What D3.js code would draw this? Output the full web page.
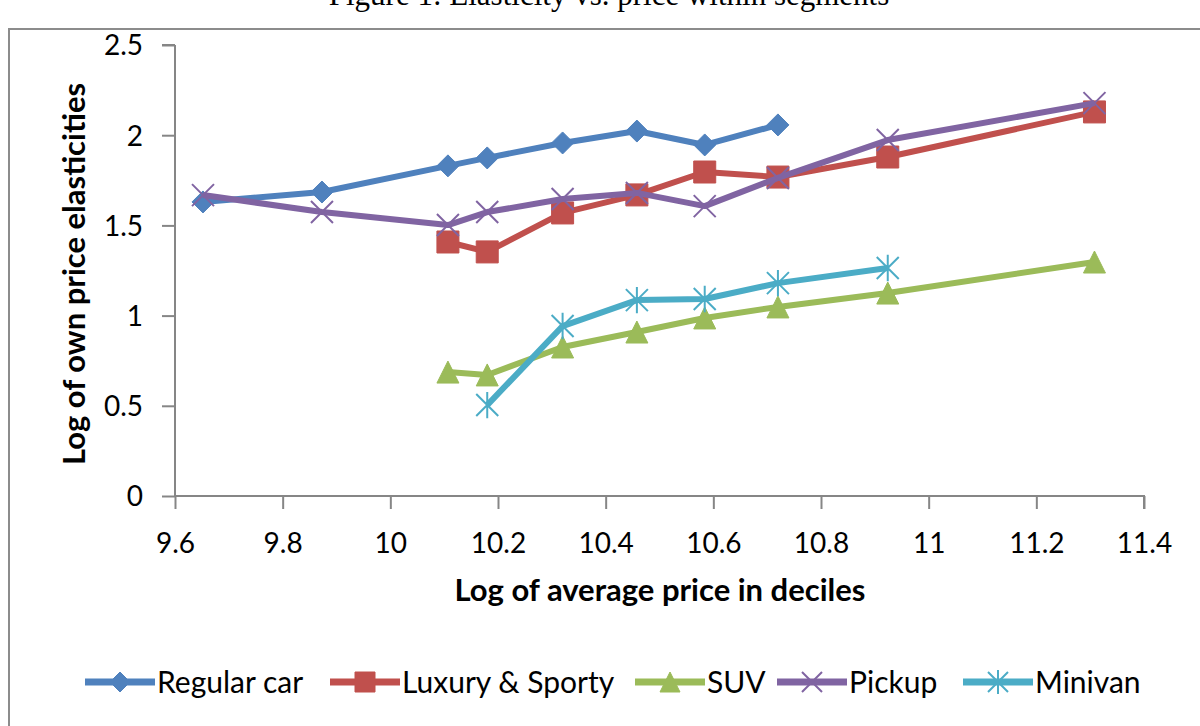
<!DOCTYPE html>
<html>
<head>
<meta charset="utf-8">
<script src="https://cdn.jsdelivr.net/npm/d3@7"></script>
<style>
    body { margin: 0; background: #ffffff; }
    #chart { width: 1200px; height: 726px; overflow: hidden; }
    text { font-family: Lato, "Open Sans", sans-serif; fill: #000; }
</style>
</head>
<body>
<div id="chart"></div>
<script>

// log of average price per decile (shared x positions)
var priceDeciles = [9.652, 9.873, 10.107, 10.18, 10.32, 10.458, 10.584, 10.72, 10.924, 11.308];

// log of own price elasticities, by segment
var regularCar = [1.63, 1.685, 1.83, 1.874, 1.957, 2.023, 1.946, 2.057];
var luxurySporty = [1.408, 1.353, 1.569, 1.669, 1.796, 1.768, 1.879, 2.129];
var suv = [0.687, 0.671, 0.826, 0.909, 0.987, 1.048, 1.125, 1.297];
var pickup = [1.668, 1.574, 1.502, 1.574, 1.646, 1.68, 1.607, 1.763, 1.973, 2.178];
var minivan = [0.504, 0.942, 1.086, 1.092, 1.18, 1.264];

// which decile each segment starts at
var seriesNames = ["Regular car", "Luxury & Sporty", "SUV", "Pickup", "Minivan"];
var seriesStart = [0, 2, 2, 0, 3];

var xTicks = [9.6, 9.8, 10, 10.2, 10.4, 10.6, 10.8, 11, 11.2, 11.4];
var yTicks = [0, 0.5, 1, 1.5, 2, 2.5];

var colors = ["#4f81bd", "#c0504d", "#9bbb59", "#8064a2", "#4bacc6"];
var markers = ["diamond", "square", "triangle", "cross", "star"];

var allValues = [regularCar, luxurySporty, suv, pickup, minivan];

var series = seriesNames.map(function(name, i){
    return {
        name: name,
        color: colors[i],
        marker: markers[i],
        values: allValues[i].map(function(v, j){
            return { x: priceDeciles[seriesStart[i] + j], y: v };
        })
    };
});

var width = 1200, height = 726;

var svg = d3.select("#chart").append("svg")
    .attr("width", width)
    .attr("height", height);

// figure caption (cut off at the top of the page)
svg.append("text")
    .attr("x", 609)
    .attr("y", 5)
    .attr("text-anchor", "middle")
    .style("font-family", "'Liberation Serif', 'DejaVu Serif', serif")
    .style("font-size", "31px")
    .text("Figure 1: Elasticity vs. price within segments");

// frame around the chart
svg.append("rect")
    .attr("x", 9)
    .attr("y", 29)
    .attr("width", 1210)
    .attr("height", 720)
    .attr("fill", "none")
    .attr("stroke", "#8c8c8c")
    .attr("stroke-width", 2);

// scales
var x = d3.scaleLinear().domain([9.6, 11.4]).range([175, 1144]);
var y = d3.scaleLinear().domain([0, 2.5]).range([496, 45]);

var axisColor = "#868686";

// y axis
var yAxis = svg.append("g")
    .attr("transform", "translate(" + x(9.6) + ",0)")
    .call(d3.axisLeft(y).tickValues(yTicks).tickSize(13).tickPadding(19)
        .tickFormat(function(d){ return d; }));

// x axis
var xAxis = svg.append("g")
    .attr("transform", "translate(0," + y(0) + ")")
    .call(d3.axisBottom(x).tickValues(xTicks).tickSize(13).tickPadding(24)
        .tickFormat(function(d){ return d; }));

[xAxis, yAxis].forEach(function(ax){
    ax.select(".domain").attr("stroke", axisColor).attr("stroke-width", 2);
    ax.selectAll(".tick line").attr("stroke", axisColor).attr("stroke-width", 2);
    ax.selectAll(".tick text")
        .style("font-family", "Lato, sans-serif")
        .style("font-size", "28px")
        .attr("fill", "#000");
});
// d3 puts outer ticks on the domain path; keep it a plain line
yAxis.select(".domain").attr("d", "M0," + (y(2.5) ) + "H-13M0," + y(2.5) + "V" + y(0));
xAxis.select(".domain").attr("d", "M" + x(9.6) + ",0H" + x(11.4) + "V13");
yAxis.selectAll(".tick text").attr("dy", "0.35em");

// axis titles
svg.append("text")
    .attr("x", 660)
    .attr("y", 601)
    .attr("text-anchor", "middle")
    .style("font-size", "31px")
    .style("font-weight", "bold")
    .text("Log of average price in deciles");

svg.append("text")
    .attr("transform", "translate(85,274) rotate(-90)")
    .attr("text-anchor", "middle")
    .style("font-size", "31px")
    .style("font-weight", "bold")
    .text("Log of own price elasticities");

// marker paths centred on 0,0
function markerPath(type, r){
    if (type === "diamond") return "M0," + (-r) + "L" + r + ",0L0," + r + "L" + (-r) + ",0Z";
    if (type === "square") return "M" + (-r) + "," + (-r) + "H" + r + "V" + r + "H" + (-r) + "Z";
    if (type === "triangle") return "M0," + (-r) + "L" + r + "," + r + "H" + (-r) + "Z";
    if (type === "cross") return "M" + (-r) + "," + (-r) + "L" + r + "," + r + "M" + r + "," + (-r) + "L" + (-r) + "," + r;
    // star: cross with a vertical bar
    return "M" + (-r) + "," + (-r) + "L" + r + "," + r + "M" + r + "," + (-r) + "L" + (-r) + "," + r +
        "M0," + (-r * 1.2) + "V" + (r * 1.2);
}

function isOpen(type){ return type === "cross" || type === "star"; }

function drawMarker(sel, s, r){
    sel.attr("d", markerPath(s.marker, r))
        .attr("fill", isOpen(s.marker) ? "none" : s.color)
        .attr("stroke", s.color)
        .attr("stroke-width", isOpen(s.marker) ? 2 : 1);
}

var line = d3.line()
    .x(function(d){ return x(d.x); })
    .y(function(d){ return y(d.y); });

// series, in drawing order
var seriesG = svg.selectAll(".series")
    .data(series)
    .enter().append("g")
    .attr("class", "series");

seriesG.append("path")
    .attr("d", function(d){ return line(d.values); })
    .attr("fill", "none")
    .attr("stroke", function(d){ return d.color; })
    .attr("stroke-width", 6)
    .attr("stroke-linejoin", "round");

seriesG.each(function(s){
    d3.select(this).selectAll(".mark")
        .data(s.values)
        .enter().append("path")
        .attr("class", "mark")
        .attr("transform", function(d){ return "translate(" + x(d.x) + "," + y(d.y) + ")"; })
        .call(drawMarker, s, 11);
});

// legend
var legendX = [85, 330, 635, 777, 963];
var legend = svg.selectAll(".legend")
    .data(series)
    .enter().append("g")
    .attr("class", "legend")
    .attr("transform", function(d, i){ return "translate(" + legendX[i] + ",682)"; });

legend.append("line")
    .attr("x1", 0).attr("x2", 70)
    .attr("stroke", function(d){ return d.color; })
    .attr("stroke-width", 7);

legend.append("path")
    .attr("transform", "translate(35,0)")
    .each(function(s){ d3.select(this).call(drawMarker, s, 10); });

legend.append("text")
    .attr("x", 72)
    .attr("dy", "0.35em")
    .style("font-size", "30px")
    .text(function(d){ return d.name; });

</script>
</body>
</html>
